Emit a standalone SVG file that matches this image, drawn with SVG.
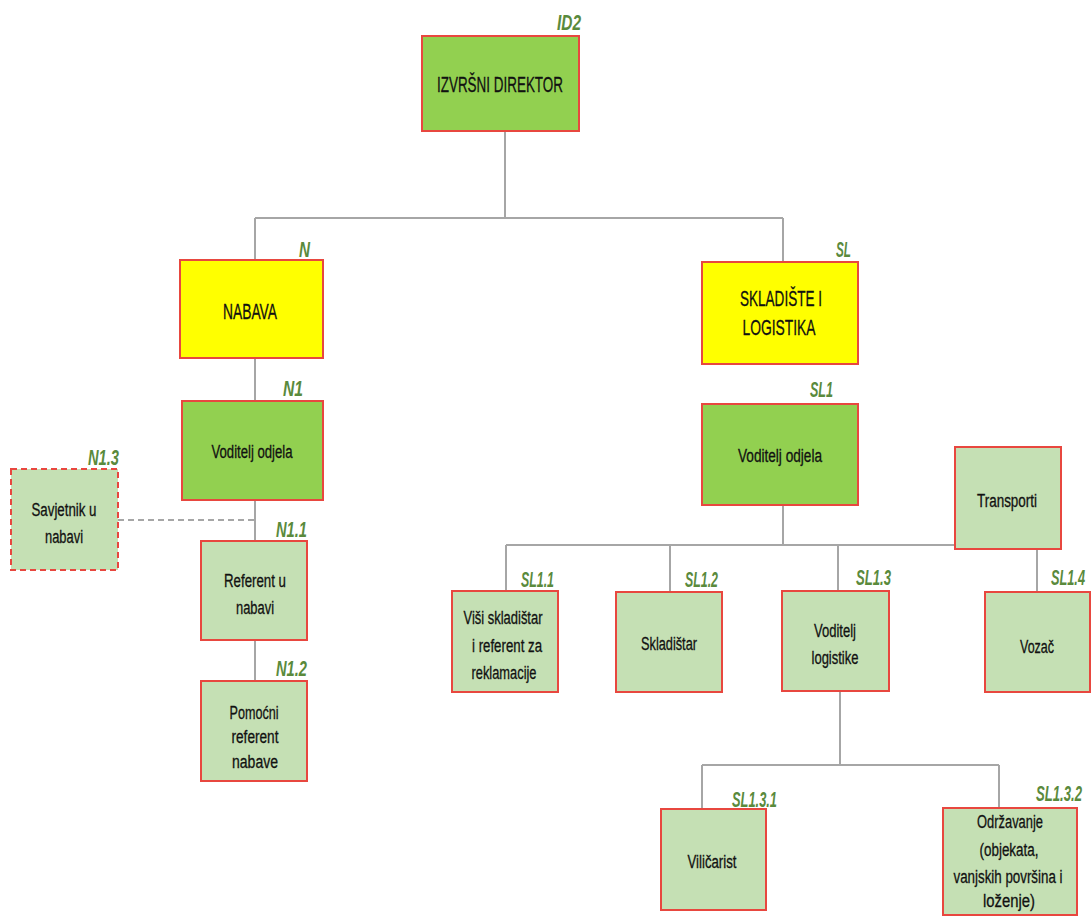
<svg xmlns="http://www.w3.org/2000/svg" width="1091" height="916" viewBox="0 0 1091 916">
<style>
.box{stroke:#e8473f;stroke-width:2}
.dg{fill:#92d050}
.yl{fill:#ffff00}
.lg{fill:#c5e0b4}
.dash{stroke-dasharray:6 4}
.t{font-family:"Liberation Sans",Arial,sans-serif;font-size:18px;fill:#111;text-anchor:middle;stroke:#111;stroke-width:0.3}
.tb{font-size:22px}
.lab{font-family:"Liberation Sans",Arial,sans-serif;font-size:22px;font-style:italic;font-weight:bold;fill:#5a8a3c;text-anchor:end}
.c{stroke:#a6a6a6;stroke-width:2;fill:none}
</style>
<rect width="1091" height="916" fill="#ffffff"/>
<g id="connectors">
<path class="c" d="M505 131V218M255 218H783M255 218V260M783 218V262"/>
<path class="c" d="M255 358V401M255 500V541M255 640V681"/>
<path class="c dash" d="M118 520H255" stroke-width="3"/>
<path class="c" d="M783 505V545M506 545H1037M506 545V591M670 545V592M838 545V591M1037 545V592"/>
<path class="c" d="M840 691V765M702 765H999M702 765V809M999 765V808"/>
</g>
<g id="ID2"><rect class="box dg" x="422" y="36" width="157" height="95"/><text class="t tb" x="500" y="92" textLength="126" lengthAdjust="spacingAndGlyphs">IZVRŠNI DIREKTOR</text><text class="lab" x="581" y="30" textLength="24" lengthAdjust="spacingAndGlyphs">ID2</text></g>
<g id="N"><rect class="box yl" x="180" y="260" width="143" height="98"/><text class="t tb" x="250" y="319" textLength="54" lengthAdjust="spacingAndGlyphs">NABAVA</text><text class="lab" x="310" y="257" textLength="11" lengthAdjust="spacingAndGlyphs">N</text></g>
<g id="SL"><rect class="box yl" x="702" y="262" width="156" height="102"/><text class="t tb" x="781" y="306" textLength="82" lengthAdjust="spacingAndGlyphs">SKLADIŠTE I</text><text class="t tb" x="779" y="335" textLength="73" lengthAdjust="spacingAndGlyphs">LOGISTIKA</text><text class="lab" x="851" y="257" textLength="15" lengthAdjust="spacingAndGlyphs">SL</text></g>
<g id="N1"><rect class="box dg" x="182" y="401" width="141" height="99"/><text class="t" x="252" y="458" textLength="81" lengthAdjust="spacingAndGlyphs">Voditelj  odjela</text><text class="lab" x="303" y="396" textLength="20" lengthAdjust="spacingAndGlyphs">N1</text></g>
<g id="SL1"><rect class="box dg" x="702" y="404" width="156" height="101"/><text class="t" x="780" y="462" textLength="84" lengthAdjust="spacingAndGlyphs">Voditelj  odjela</text><text class="lab" x="833" y="397" textLength="23" lengthAdjust="spacingAndGlyphs">SL1</text></g>
<g id="N1.3"><rect class="box lg dash" x="11" y="469" width="107" height="101"/><text class="t" x="64" y="516" textLength="65" lengthAdjust="spacingAndGlyphs">Savjetnik u</text><text class="t" x="64" y="543" textLength="38" lengthAdjust="spacingAndGlyphs">nabavi</text><text class="lab" x="119" y="465" textLength="31" lengthAdjust="spacingAndGlyphs">N1.3</text></g>
<g id="N1.1"><rect class="box lg" x="201" y="541" width="106" height="99"/><text class="t" x="255" y="587" textLength="62" lengthAdjust="spacingAndGlyphs">Referent u</text><text class="t" x="255" y="614" textLength="38" lengthAdjust="spacingAndGlyphs">nabavi</text><text class="lab" x="307" y="537" textLength="31" lengthAdjust="spacingAndGlyphs">N1.1</text></g>
<g id="N1.2"><rect class="box lg" x="201" y="681" width="106" height="100"/><text class="t" x="254" y="719" textLength="49" lengthAdjust="spacingAndGlyphs">Pomoćni</text><text class="t" x="255" y="743" textLength="47" lengthAdjust="spacingAndGlyphs">referent</text><text class="t" x="255" y="768" textLength="46" lengthAdjust="spacingAndGlyphs">nabave</text><text class="lab" x="307" y="676" textLength="31" lengthAdjust="spacingAndGlyphs">N1.2</text></g>
<g id="Transporti"><rect class="box lg" x="955" y="447" width="106" height="102"/><text class="t" x="1007" y="507" textLength="60" lengthAdjust="spacingAndGlyphs">Transporti</text></g>
<g id="SL1.1"><rect class="box lg" x="452" y="591" width="106" height="101"/><text class="t" x="503" y="624" textLength="79" lengthAdjust="spacingAndGlyphs">Viši skladištar</text><text class="t" x="507" y="652" textLength="70" lengthAdjust="spacingAndGlyphs">i referent za</text><text class="t" x="504" y="679" textLength="65" lengthAdjust="spacingAndGlyphs">reklamacije</text><text class="lab" x="554" y="587" textLength="33" lengthAdjust="spacingAndGlyphs">SL1.1</text></g>
<g id="SL1.2"><rect class="box lg" x="616" y="592" width="106" height="100"/><text class="t" x="669" y="650" textLength="56" lengthAdjust="spacingAndGlyphs">Skladištar</text><text class="lab" x="718" y="587" textLength="33" lengthAdjust="spacingAndGlyphs">SL1.2</text></g>
<g id="SL1.3"><rect class="box lg" x="782" y="591" width="107" height="100"/><text class="t" x="835" y="637" textLength="42" lengthAdjust="spacingAndGlyphs">Voditelj</text><text class="t" x="835" y="664" textLength="47" lengthAdjust="spacingAndGlyphs">logistike</text><text class="lab" x="891" y="585" textLength="35" lengthAdjust="spacingAndGlyphs">SL1.3</text></g>
<g id="SL1.4"><rect class="box lg" x="985" y="592" width="105" height="100"/><text class="t" x="1037" y="653" textLength="34" lengthAdjust="spacingAndGlyphs">Vozač</text><text class="lab" x="1085" y="585" textLength="34" lengthAdjust="spacingAndGlyphs">SL1.4</text></g>
<g id="SL1.3.1"><rect class="box lg" x="661" y="809" width="105" height="101"/><text class="t" x="712" y="868" textLength="49" lengthAdjust="spacingAndGlyphs">Viličarist</text><text class="lab" x="777" y="807" textLength="45" lengthAdjust="spacingAndGlyphs">SL1.3.1</text></g>
<g id="SL1.3.2"><rect class="box lg" x="943" y="808" width="134" height="107"/><text class="t" x="1010" y="828" textLength="66" lengthAdjust="spacingAndGlyphs">Održavanje</text><text class="t" x="1009" y="856" textLength="59" lengthAdjust="spacingAndGlyphs">(objekata,</text><text class="t" x="1008" y="883" textLength="109" lengthAdjust="spacingAndGlyphs">vanjskih površina i</text><text class="t" x="1009" y="907" textLength="52" lengthAdjust="spacingAndGlyphs">loženje)</text><text class="lab" x="1082" y="801" textLength="46" lengthAdjust="spacingAndGlyphs">SL1.3.2</text></g>
</svg>
